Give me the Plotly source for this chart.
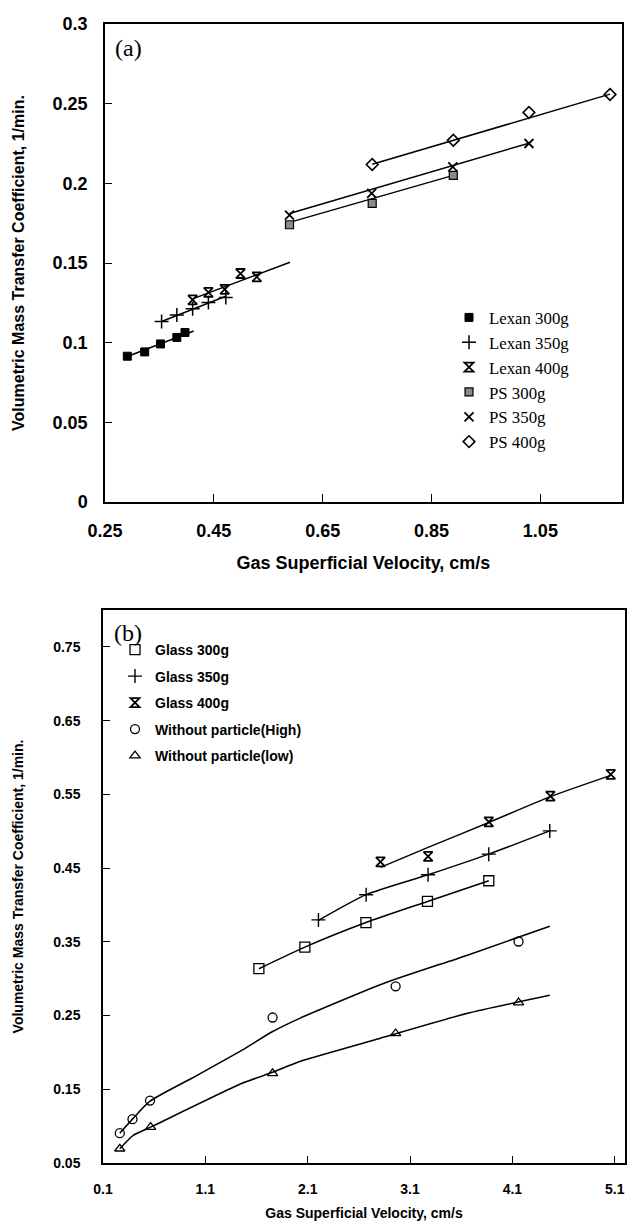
import plotly.graph_objects as go

# ---------------- Panel (a) data ----------------
LEX300_X = [0.291, 0.323, 0.352, 0.382, 0.397]
LEX300_Y = [0.0915, 0.0942, 0.0992, 0.1033, 0.1064]
LEX350_X = [0.354, 0.382, 0.411, 0.440, 0.472]
LEX350_Y = [0.1133, 0.1174, 0.1213, 0.1252, 0.1283]
LEX400_X = [0.411, 0.440, 0.470, 0.499, 0.529]
LEX400_Y = [0.1268, 0.1316, 0.1335, 0.1434, 0.1413]
PS300_X = [0.589, 0.741, 0.890]
PS300_Y = [0.174, 0.1874, 0.205]
PS350_X = [0.589, 0.740, 0.889, 1.029]
PS350_Y = [0.180, 0.1937, 0.2103, 0.2250]
PS400_X = [0.741, 0.890, 1.029, 1.178]
PS400_Y = [0.2118, 0.2270, 0.2445, 0.2558]

# trend lines
LEX300_FIT_X = [0.291, 0.413]
LEX300_FIT_Y = [0.0913, 0.1073]
LEX350_FIT_X = [0.354, 0.473]
LEX350_FIT_Y = [0.1133, 0.1293]
LEX400_FIT_X = [0.411, 0.590]
LEX400_FIT_Y = [0.1275, 0.1505]
PS300_FIT_X = [0.589, 0.890]
PS300_FIT_Y = [0.1755, 0.205]
PS350_FIT_X = [0.589, 1.029]
PS350_FIT_Y = [0.1811, 0.2252]
PS400_FIT_X = [0.741, 1.178]
PS400_FIT_Y = [0.212, 0.256]

A_XTICKS = [0.25, 0.45, 0.65, 0.85, 1.05]
A_YTICKS = [0, 0.05, 0.1, 0.15, 0.2, 0.25, 0.3]
A_YTICKTEXT = ["0", "0.05", "0.1", "0.15", "0.2", "0.25", "0.3"]

# ---------------- Panel (b) data ----------------
G300_X = [1.623, 2.072, 2.669, 3.270, 3.869]
G300_Y = [0.3135, 0.3428, 0.3761, 0.4047, 0.4328]
G350_X = [2.205, 2.671, 3.276, 3.869, 4.465]
G350_Y = [0.3797, 0.4139, 0.4409, 0.4689, 0.5004]
G400_X = [2.811, 3.276, 3.869, 4.471, 5.061]
G400_Y = [0.4585, 0.4658, 0.5126, 0.5477, 0.5770]
HIGH_X = [0.264, 0.388, 0.559, 1.757, 2.959, 4.160]
HIGH_Y = [0.0905, 0.1095, 0.1347, 0.2473, 0.2896, 0.3504]
LOW_X = [0.264, 0.565, 1.757, 2.959, 4.160]
LOW_Y = [0.0693, 0.0986, 0.1716, 0.2257, 0.2676]

# fitted curves
G300_FIT_X = [1.623, 2.072, 2.669, 3.270, 3.869]
G300_FIT_Y = [0.3135, 0.3428, 0.3761, 0.4047, 0.4328]
G350_FIT_X = [2.205, 2.671, 3.276, 3.869, 4.465]
G350_FIT_Y = [0.3790, 0.4139, 0.4409, 0.4689, 0.5004]
G400_FIT_X = [2.811, 3.276, 3.869, 4.471, 5.061]
G400_FIT_Y = [0.4509, 0.4780, 0.5118, 0.5469, 0.5757]
HIGH_FIT_X = [0.264, 0.388, 0.559, 0.967, 1.459, 1.753, 2.016, 2.834, 3.653, 4.465]
HIGH_FIT_Y = [0.0905, 0.1095, 0.1338, 0.1649, 0.2031, 0.2280, 0.2459, 0.2932, 0.3315, 0.3712]
LOW_FIT_X = [0.264, 0.395, 0.565, 1.459, 1.757, 2.016, 2.802, 3.653, 4.465]
LOW_FIT_Y = [0.0693, 0.0874, 0.0986, 0.1581, 0.1730, 0.1874, 0.2189, 0.2527, 0.2774]

B_XTICKS = [0.1, 1.1, 2.1, 3.1, 4.1, 5.1]
B_YTICKS = [0.05, 0.15, 0.25, 0.35, 0.45, 0.55, 0.65, 0.75]

W, H = 627, 1221
BLACK = "black"
fig = go.Figure()


def line(x, y, xa, ya):
    fig.add_trace(go.Scatter(x=x, y=y, mode="lines", xaxis=xa, yaxis=ya,
                             line=dict(color=BLACK, width=1.5, shape="spline", smoothing=0.6),
                             showlegend=False, hoverinfo="skip"))


def pts(x, y, name, symbol, xa, ya, legend, size=9, fill=BLACK, lw=1.5):
    fig.add_trace(go.Scatter(x=x, y=y, mode="markers", name=name, xaxis=xa, yaxis=ya,
                             legend=legend, legendgroup=name,
                             marker=dict(symbol=symbol, size=size, color=fill,
                                         line=dict(color=BLACK, width=lw))))


# Panel (a)
for fx, fy in [(LEX300_FIT_X, LEX300_FIT_Y), (LEX350_FIT_X, LEX350_FIT_Y),
               (LEX400_FIT_X, LEX400_FIT_Y), (PS300_FIT_X, PS300_FIT_Y),
               (PS350_FIT_X, PS350_FIT_Y), (PS400_FIT_X, PS400_FIT_Y)]:
    line(fx, fy, "x", "y")

pts(LEX300_X, LEX300_Y, "Lexan 300g", "square", "x", "y", "legend", size=8, lw=1)
pts(LEX350_X, LEX350_Y, "Lexan 350g", "cross-thin-open", "x", "y", "legend", size=10)
pts(LEX400_X, LEX400_Y, "Lexan 400g", "hourglass-open", "x", "y", "legend", size=9, lw=1.8)
pts(PS300_X, PS300_Y, "PS 300g", "square", "x", "y", "legend", size=8, fill="#8a8a8a", lw=1.2)
pts(PS350_X, PS350_Y, "PS 350g", "x-thin-open", "x", "y", "legend", size=9, lw=1.8)
pts(PS400_X, PS400_Y, "PS 400g", "diamond-open", "x", "y", "legend", size=9, lw=1.6)

# Panel (b)
for fx, fy in [(G300_FIT_X, G300_FIT_Y), (G350_FIT_X, G350_FIT_Y), (G400_FIT_X, G400_FIT_Y),
               (HIGH_FIT_X, HIGH_FIT_Y), (LOW_FIT_X, LOW_FIT_Y)]:
    line(fx, fy, "x2", "y2")

pts(G300_X, G300_Y, "Glass 300g", "square-open", "x2", "y2", "legend2", size=10, lw=1.3)
pts(G350_X, G350_Y, "Glass 350g", "cross-thin-open", "x2", "y2", "legend2", size=10, lw=1.4)
pts(G400_X, G400_Y, "Glass 400g", "hourglass-open", "x2", "y2", "legend2", size=9, lw=1.8)
pts(HIGH_X, HIGH_Y, "Without particle(High)", "circle-open", "x2", "y2", "legend2", size=9, lw=1.3)
pts(LOW_X, LOW_Y, "Without particle(low)", "triangle-up-open", "x2", "y2", "legend2", size=9, lw=1.3)

SANS = "Arial, Liberation Sans, sans-serif"
SERIF = "Times New Roman, Liberation Serif, serif"


def px_x(p):
    return p / W


def px_y(p):
    return 1 - p / H


axis_common = dict(showline=True, linecolor=BLACK, linewidth=1.5, mirror=True,
                   ticks="inside", tickcolor=BLACK, showgrid=False, zeroline=False,
                   automargin=False)

fig.update_layout(
    width=W, height=H, margin=dict(l=0, r=0, t=0, b=0),
    paper_bgcolor="white", plot_bgcolor="white",
    xaxis=dict(domain=[px_x(105), px_x(622)], range=[0.25, 1.2], anchor="y",
               tickvals=A_XTICKS, ticktext=[f"{v:.2f}" for v in A_XTICKS],
               ticklen=8, ticklabelstandoff=12,
               tickfont=dict(family=SANS, size=18, color=BLACK, weight="bold"),
               title=dict(text="Gas Superficial Velocity, cm/s", standoff=16,
                          font=dict(family=SANS, size=18, color=BLACK, weight="bold")),
               **axis_common),
    yaxis=dict(domain=[px_y(502), px_y(24)], range=[0, 0.3], anchor="x",
               tickvals=A_YTICKS, ticktext=A_YTICKTEXT, ticklen=7, ticklabelstandoff=12,
               tickfont=dict(family=SANS, size=18, color=BLACK, weight="bold"),
               title=dict(text="Volumetric Mass Transfer Coefficient, 1/min.", standoff=24,
                          font=dict(family=SANS, size=16, color=BLACK, weight="bold")),
               **axis_common),
    xaxis2=dict(domain=[px_x(103), px_x(625)], range=[0.1, 5.2], anchor="y2",
                tickvals=B_XTICKS, ticktext=[f"{v:.1f}" for v in B_XTICKS],
                ticklen=7, ticklabelstandoff=12,
                tickfont=dict(family=SANS, size=14, color=BLACK, weight="bold"),
                title=dict(text="Gas Superficial Velocity, cm/s", standoff=14,
                           font=dict(family=SANS, size=14, color=BLACK, weight="bold")),
                **axis_common),
    yaxis2=dict(domain=[px_y(1163), px_y(610)], range=[0.05, 0.8], anchor="x2",
                tickvals=B_YTICKS, ticktext=[f"{v:.2f}" for v in B_YTICKS],
                ticklen=7, ticklabelstandoff=18,
                tickfont=dict(family=SANS, size=14, color=BLACK, weight="bold"),
                title=dict(text="Volumetric Mass Transfer Coefficient, 1/min.", standoff=26,
                           font=dict(family=SANS, size=14, color=BLACK, weight="bold")),
                **axis_common),
    legend=dict(x=px_x(449), y=px_y(300), xanchor="left", yanchor="top",
                bgcolor="rgba(0,0,0,0)", traceorder="grouped", tracegroupgap=0,
                font=dict(family=SERIF, size=16.8, color=BLACK)),
    legend2=dict(x=px_x(115), y=px_y(634), xanchor="left", yanchor="top",
                 bgcolor="rgba(0,0,0,0)", traceorder="grouped", tracegroupgap=5.3,
                 font=dict(family=SANS, size=14, color=BLACK, weight="bold")),
    annotations=[
        dict(text="(a)", x=px_x(128), y=px_y(48), xref="paper", yref="paper",
             xanchor="center", yanchor="middle",
             showarrow=False, font=dict(family=SERIF, size=24, color=BLACK)),
        dict(text="(b)", x=px_x(128), y=px_y(633), xref="paper", yref="paper",
             xanchor="center", yanchor="middle",
             showarrow=False, font=dict(family=SERIF, size=24, color=BLACK)),
    ],
)

fig.write_html("out.html")
